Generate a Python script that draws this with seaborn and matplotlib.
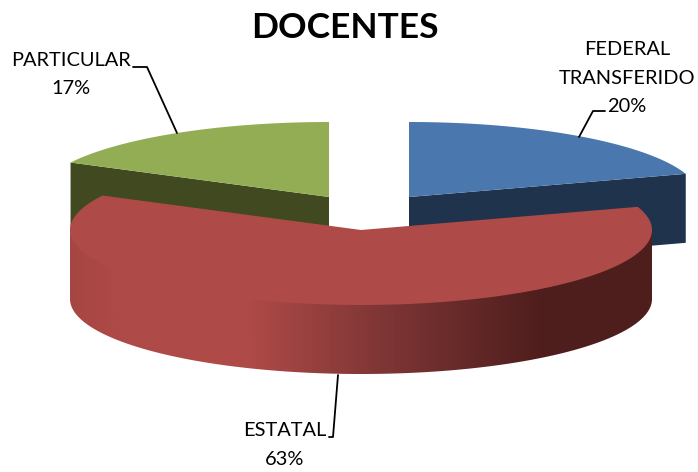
import numpy as np
import matplotlib
matplotlib.use("Agg")
import matplotlib.pyplot as plt
from matplotlib.patches import Polygon
from matplotlib.colors import LinearSegmentedColormap
import seaborn as sns

# ------------------------------------------
# Data
# ------------------------------------------
categories = ["FEDERAL\nTRANSFERIDO", "ESTATAL", "PARTICULAR"]
shares = [20.0, 62.6, 17.4]

# ------------------------------------------
# Style
# ------------------------------------------
sns.set_theme(style="white")
plt.rcParams['font.family'] = ['Lato', 'DejaVu Sans']

top_colors = ["#4a77ad", "#ae4a47", "#93ad54"]
side_colors = ["#1f334d", "#4e1e1d", "#40491f"]

# pie geometry, in picture pixels
rx, ry, depth = 291, 75, 69
centers = [(409, 197), (361, 230), (329, 197)]

fig = plt.figure(figsize=(6.98, 4.72), dpi=100)
ax = fig.add_axes([0, 0, 1, 1])
ax.axis("off")


def rim(cx, cy, a, b, n=200):
    # angles in degrees, clockwise from the top of the ellipse
    t = np.radians(np.linspace(a, b, n))
    return cx + rx * np.sin(t), cy - ry * np.cos(t)


# slice angles come from the shares
edges = np.concatenate([[0], np.cumsum(shares)]) * 360 / sum(shares)

# ------------------------------------------
# Blue and green slices (behind the red one)
# ------------------------------------------
for i, edge in [(0, edges[1]), (2, edges[2])]:
    cx, cy = centers[i]
    ex, ey = rim(cx, cy, edge, edge, 1)
    ax.fill([cx, ex[0], ex[0], cx], [cy, ey[0], ey[0] + depth, cy + depth],
            color=side_colors[i], lw=0, zorder=1)
    x, y = rim(cx, cy, edges[i], edges[i + 1])
    ax.fill(np.r_[cx, x], np.r_[cy, y], color=top_colors[i], lw=0, zorder=2)

# ------------------------------------------
# Red slice, side wall with a gradient
# ------------------------------------------
cx, cy = centers[1]
x, y = rim(cx, cy, 90, 270, 400)
x0, x1 = cx - rx, cx + rx

# colour stops along the wall, left to right
stops = [(0.0, "#a64643"), (0.08, "#ae4a47"), (0.31, "#ae4a47"), (0.435, "#933f3d"),
         (0.52, "#823737"), (0.81, "#4e1e1d"), (1.0, "#4e1e1d")]
wall_cmap = LinearSegmentedColormap.from_list("wall", stops)

# top of the wall goes a little under the top face so no seam shows
wall = Polygon(np.c_[np.r_[x, x[::-1]], np.r_[y - 2, y[::-1] + depth]], closed=True,
               transform=ax.transData, fc="none", lw=0)
ax.add_patch(wall)
im = ax.imshow(np.linspace(0, 1, 584).reshape(1, -1), cmap=wall_cmap, aspect="auto",
               extent=[x0, x1, cy + ry + depth, cy], zorder=3, interpolation="bilinear")
im.set_clip_path(wall)

x, y = rim(cx, cy, edges[1], edges[2])
ax.fill(np.r_[cx, x], np.r_[cy, y], color=top_colors[1], lw=0, zorder=4)

# imshow moves the limits, so set them after it
ax.set_xlim(0, 698)
ax.set_ylim(472, 0)

# ------------------------------------------
# Labels with leader lines
# ------------------------------------------
fs = 14.4
labels = [f"{c}\n{round(s)}%" for c, s in zip(categories, shares)]

ax.text(627, 78, labels[0], ha="center", va="center", fontsize=fs, color="black",
        linespacing=1.8)
ax.text(285, 445, labels[1], ha="center", va="center", fontsize=fs, color="black",
        linespacing=1.8)
ax.text(71, 74.5, labels[2], ha="center", va="center", fontsize=fs, color="black",
        linespacing=1.8)

ax.plot([605, 593, 579], [111, 111, 137], color="black", lw=1.3, zorder=5)
ax.plot([329, 333, 338], [437, 437, 375], color="black", lw=1.3, zorder=5)
ax.plot([133, 147, 177], [67, 67, 133], color="black", lw=1.3, zorder=5)

ax.text(345, 28, "DOCENTES", ha="center", va="center", fontsize=25.5,
        fontweight="bold", color="black")

plt.savefig("out.png", dpi=100)
